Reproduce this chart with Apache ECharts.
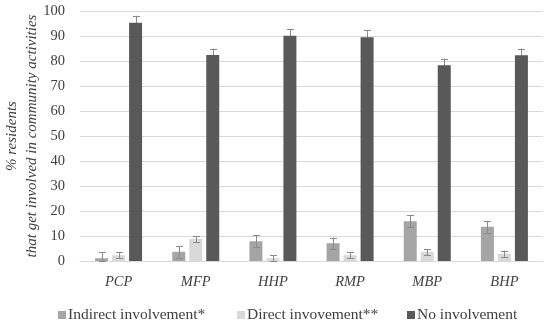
<!DOCTYPE html>
<html>
<head>
<meta charset="utf-8">
<script src="https://cdn.jsdelivr.net/npm/echarts@6/dist/echarts.min.js"></script>
<style>html,body{margin:0;padding:0;background:#fff}#c{width:550px;height:323px}</style>
</head>
<body>
<div id="c"></div>
<script>
const categories = ['PCP', 'MFP', 'HHP', 'RMP', 'MBP', 'BHP'];
const indirect = [1.1, 3.7, 7.9, 7.1, 15.9, 13.7];
const indirectErr = [2.5, 2.3, 2.4, 2.3, 2.4, 2.4];
const direct = [2.3, 8.8, 1.1, 2.3, 3.6, 2.9];
const directErr = [1.2, 1.2, 1.2, 1.2, 1.2, 1.3];
const none = [95.3, 82.4, 90.1, 89.5, 78.3, 82.3];
const noneErr = [2.8, 2.6, 2.7, 2.8, 2.7, 2.7];
const yTicks = [0, 10, 20, 30, 40, 50, 60, 70, 80, 90, 100];
const seriesNames = ['Indirect involvement*', 'Direct invovement**', 'No involvement'];
const colors = ['#a5a5a5', '#d9d9d9', '#595959'];

const FONT = '"Liberation Serif", "DejaVu Serif", serif';
const BAR_W = 13, GAP = 4;

function errData(vals, errs) {
  return vals.map((v, i) => [i, Math.max(0, v - errs[i]), v + errs[i]]);
}
function errSeries(vals, errs, idx, z) {
  const offset = (idx - 1) * (BAR_W + GAP);
  return {
    type: 'custom', name: 'err' + idx, z: z, silent: true,
    data: errData(vals, errs),
    encode: { x: 0, y: [1, 2] },
    renderItem: function (params, api) {
      const lo = api.coord([api.value(0), api.value(1)]);
      const hi = api.coord([api.value(0), api.value(2)]);
      const x = Math.round(lo[0] + offset) + 0.5;
      const cw = 3.5;
      const st = { stroke: '#8a8a8a', lineWidth: 1 };
      return { type: 'group', children: [
        { type: 'line', shape: { x1: x, y1: lo[1], x2: x, y2: hi[1] }, style: st },
        { type: 'line', shape: { x1: x - cw, y1: Math.round(hi[1]) + 0.5, x2: x + cw, y2: Math.round(hi[1]) + 0.5 }, style: st },
        { type: 'line', shape: { x1: x - cw, y1: Math.round(lo[1]) + 0.5, x2: x + cw, y2: Math.round(lo[1]) + 0.5 }, style: st }
      ]};
    }
  };
}

const legendLefts = [58, 237, 407];
const chart = echarts.init(document.getElementById('c'));
chart.setOption({
  animation: false,
  grid: { left: 80, right: 7, top: 11, bottom: 62, containLabel: false, outerBoundsMode: 'none' },
  legend: seriesNames.map((n, i) => ({
    data: [n], left: legendLefts[i], top: 307, padding: 0, icon: 'rect', itemWidth: 8, itemHeight: 8, itemGap: 0,
    textStyle: { fontFamily: FONT, fontSize: 15.5, color: '#404040', padding: [0, 0, 0, -3] }
  })),
  xAxis: {
    type: 'category', data: categories,
    axisLine: { lineStyle: { color: '#d9d9d9' } },
    axisTick: { show: false },
    axisLabel: { fontFamily: FONT, fontStyle: 'italic', fontSize: 14.5, color: '#404040', margin: 14 }
  },
  yAxis: {
    type: 'value', min: yTicks[0], max: yTicks[yTicks.length - 1], interval: 10,
    name: '% residents\nthat get involved in community activities',
    nameLocation: 'middle', nameRotate: 90, nameGap: 38, nameMoveOverlap: false,
    nameTextStyle: { fontFamily: FONT, fontStyle: 'italic', fontSize: 15, color: '#404040', lineHeight: 20 },
    axisLabel: { fontFamily: FONT, fontSize: 14.5, color: '#404040', margin: 15 },
    splitLine: { lineStyle: { color: '#d9d9d9' } },
    axisLine: { show: false }, axisTick: { show: false }
  },
  series: [
    { type: 'bar', name: seriesNames[0], data: indirect, barWidth: BAR_W, barGap: (GAP / BAR_W * 100) + '%', itemStyle: { color: colors[0] }, z: 2 },
    { type: 'bar', name: seriesNames[1], data: direct, barWidth: BAR_W, itemStyle: { color: colors[1] }, z: 2 },
    { type: 'bar', name: seriesNames[2], data: none, barWidth: BAR_W, itemStyle: { color: colors[2] }, z: 2 },
    errSeries(indirect, indirectErr, 0, 3),
    errSeries(direct, directErr, 1, 3),
    errSeries(none, noneErr, 2, 1)
  ]
});
</script>
</body>
</html>
